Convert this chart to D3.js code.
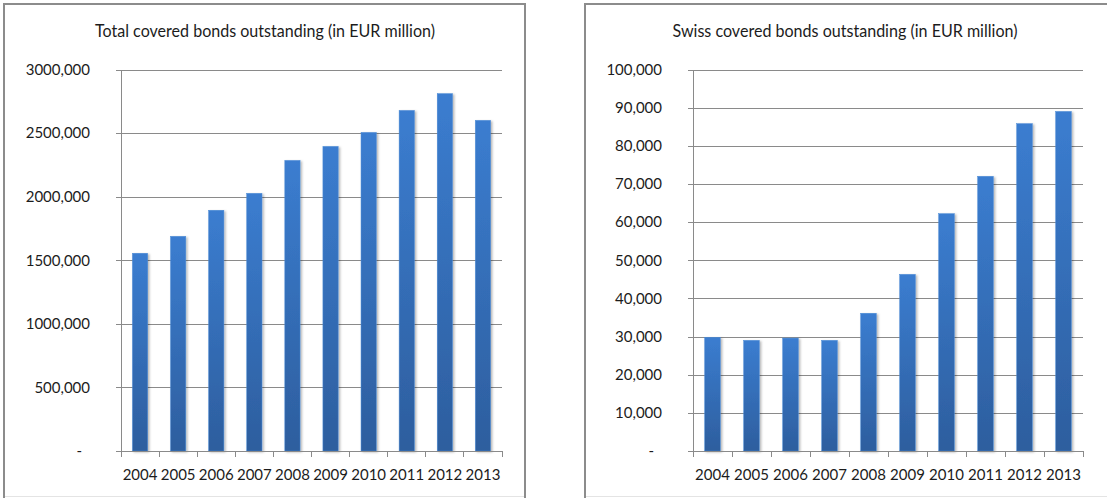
<!DOCTYPE html>
<html>
<head>
<meta charset="utf-8">
<script src="https://cdn.jsdelivr.net/npm/d3@7"></script>
<style>
  body { margin: 0; background: #fff; }
  svg text { font-family: Lato, "Open Sans", sans-serif; fill: #1c1c1c; }
</style>
</head>
<body>
<div id="chart"></div>
<script>
// values
const years = ["2004","2005","2006","2007","2008","2009","2010","2011","2012","2013"];
const totalOutstanding = [1555000, 1688000, 1893000, 2026000, 2285000, 2395000, 2505000, 2678000, 2810000, 2600000];
const swissOutstanding = [29800, 29000, 29600, 29000, 36100, 46300, 62200, 72000, 85800, 89000];

const totalTicks = [0, 500000, 1000000, 1500000, 2000000, 2500000, 3000000];
const totalTickLabels = ["-", "500,000", "1000,000", "1500,000", "2000,000", "2500,000", "3000,000"];
const swissTicks = [0, 10000, 20000, 30000, 40000, 50000, 60000, 70000, 80000, 90000, 100000];
const swissTickLabels = ["-", "10,000", "20,000", "30,000", "40,000", "50,000", "60,000", "70,000", "80,000", "90,000", "100,000"];

const titles = ["Total covered bonds outstanding (in EUR million)", "Swiss covered bonds outstanding (in EUR million)"];

var width = 1107;
var height = 498;

const svg = d3.select("#chart")
    .append("svg")
    .attr("width", width)
    .attr("height", height);

const defs = svg.append("defs");

var grad = defs.append("linearGradient")
    .attr("id", "barGrad")
    .attr("x1", 0).attr("y1", 0).attr("x2", 0).attr("y2", 1);
grad.append("stop").attr("offset", "0%").attr("stop-color", "#3b7dd0");
grad.append("stop").attr("offset", "100%").attr("stop-color", "#2d5e9e");

defs.append("filter")
    .attr("id", "shadow")
    .attr("x", "-50%").attr("y", "-10%").attr("width", "200%").attr("height", "120%")
    .append("feDropShadow")
    .attr("dx", 1.5).attr("dy", 1)
    .attr("stdDeviation", 1.2)
    .attr("flood-color", "#000")
    .attr("flood-opacity", 0.3);

function drawChart(opts) {
    // panel frame
    svg.append("rect")
        .attr("x", opts.frame[0]).attr("y", 4)
        .attr("width", opts.frame[1] - opts.frame[0])
        .attr("height", 498)
        .attr("fill", "#fff")
        .attr("stroke", "#8c8c8c")
        .attr("stroke-width", 2);
    svg.append("line")
        .attr("x1", opts.frame[0] + 1).attr("x2", opts.frame[1] - 1)
        .attr("y1", 496.5).attr("y2", 496.5)
        .attr("stroke", "#e4e4e4");

    svg.append("text")
        .attr("x", opts.titleX)
        .attr("y", 37)
        .attr("text-anchor", "middle")
        .attr("font-size", 17)
        .attr("textLength", opts.titleW)
        .attr("lengthAdjust", "spacingAndGlyphs")
        .text(opts.title);

    const x = d3.scaleBand().domain(years).range([opts.left, opts.right]).paddingInner(0.6).paddingOuter(0.3);
    const xb = d3.scaleBand().domain(years).range([opts.left, opts.right]);
    const y = d3.scaleLinear().domain([0, opts.max]).range([451, 69.5]);

    const g = svg.append("g");

    // gridlines + y axis
    const yAxis = g.append("g")
        .attr("transform", "translate(" + opts.left + ",0)")
        .call(d3.axisLeft(y)
            .tickValues(opts.ticks)
            .tickFormat(function(d, i){ return opts.tickLabels[i]; })
            .tickSize(-(opts.right - opts.left))
            .tickPadding(31));
    yAxis.select(".domain").remove();
    yAxis.selectAll(".tick line")
        .attr("x1", -5)
        .attr("stroke", "#8a8a8a")
        .attr("shape-rendering", "crispEdges");
    yAxis.selectAll(".tick text")
        .attr("font-size", 15)
        .attr("fill", "#1c1c1c");
    yAxis.selectAll(".tick text")
        .filter(function(d){ return d === 0; })
        .attr("x", -39);

    g.append("line")
        .attr("x1", opts.left).attr("x2", opts.left)
        .attr("y1", y(opts.max)).attr("y2", 451)
        .attr("stroke", "#8a8a8a")
        .attr("shape-rendering", "crispEdges");

    // bars
    g.append("g").selectAll("rect")
        .data(opts.values)
        .join("rect")
        .attr("x", function(d, i){ return xb(years[i]) + xb.bandwidth() * 0.3; })
        .attr("width", xb.bandwidth() * 0.4)
        .attr("y", function(d){ return y(d); })
        .attr("height", function(d){ return 451 - y(d); })
        .attr("fill", "url(#barGrad)")
        .attr("stroke", "#4a8ad6")
        .attr("stroke-width", 0.5)
        .attr("filter", "url(#shadow)");

    // x axis with ticks between categories
    const xAxis = g.append("g").attr("transform", "translate(0,451)");
    xAxis.append("line")
        .attr("x1", opts.left - 5).attr("x2", opts.right)
        .attr("stroke", "#8a8a8a")
        .attr("shape-rendering", "crispEdges");
    xAxis.selectAll(".sep")
        .data(years.concat(["end"]))
        .join("line")
        .attr("class", "sep")
        .attr("x1", function(d, i){ return opts.left + i * xb.bandwidth(); })
        .attr("x2", function(d, i){ return opts.left + i * xb.bandwidth(); })
        .attr("y1", 0).attr("y2", 6)
        .attr("stroke", "#8a8a8a")
        .attr("shape-rendering", "crispEdges");
    xAxis.selectAll(".lbl")
        .data(years)
        .join("text")
        .attr("class", "lbl")
        .attr("x", function(d){ return xb(d) + xb.bandwidth() / 2; })
        .attr("y", 29)
        .attr("text-anchor", "middle")
        .attr("font-size", 15)
        .text(function(d){ return d; });
}

drawChart({
    frame: [4, 525], title: titles[0], titleX: 265, titleW: 340,
    left: 121, right: 502, max: 3000000,
    ticks: totalTicks, tickLabels: totalTickLabels, values: totalOutstanding
});

drawChart({
    frame: [585, 1112], title: titles[1], titleX: 845, titleW: 345,
    left: 693, right: 1083, max: 100000,
    ticks: swissTicks, tickLabels: swissTickLabels, values: swissOutstanding
});
</script>
</body>
</html>
